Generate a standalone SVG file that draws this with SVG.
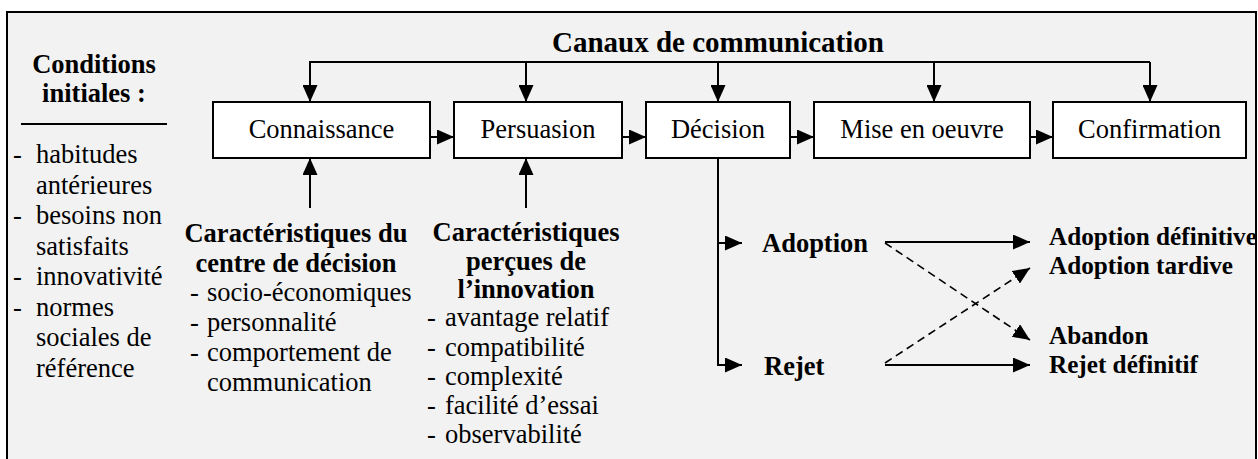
<svg xmlns="http://www.w3.org/2000/svg" width="1258" height="459" viewBox="0 0 1258 459">
<defs>
<marker id="ah" markerUnits="userSpaceOnUse" markerWidth="17" markerHeight="15" refX="17" refY="7.5" orient="auto">
<path d="M0,0 L17,7.5 L0,15 z" fill="#000"/>
</marker>
<style>
text{font-family:'Liberation Serif','Times New Roman',Times,'DejaVu Serif',serif;font-size:26.5px;fill:#000}
.b{font-weight:bold}
.m{text-anchor:middle}
text.title{font-size:29px}
text.out{font-size:25.2px}
.box{fill:#fff;stroke:#000;stroke-width:2}
.ln{fill:none;stroke:#000;stroke-width:2}
.ar{fill:none;stroke:#000;stroke-width:2;marker-end:url(#ah)}
.da{fill:none;stroke:#000;stroke-width:1.6;stroke-dasharray:8,5;marker-end:url(#ah)}
</style>
</defs>
<rect x="7" y="12" width="1249" height="460" fill="#f2f2f2" stroke="#000" stroke-width="2"/>
<g font-family="Liberation Serif, serif">
<text class="b m title" x="718" y="52">Canaux de communication</text>

<g id="conditions">
<text class="b m" x="94" y="73">Conditions</text>
<text class="b m" x="94" y="102">initiales :</text>
<line x1="21" y1="124" x2="167" y2="124" stroke="#000" stroke-width="2"/>
<text><tspan x="13" y="163">-</tspan><tspan x="36">habitudes</tspan></text>
<text x="36" y="193.5">antérieures</text>
<text><tspan x="13" y="224">-</tspan><tspan x="36">besoins non</tspan></text>
<text x="36" y="254.5">satisfaits</text>
<text><tspan x="13" y="285">-</tspan><tspan x="36">innovativité</tspan></text>
<text><tspan x="13" y="315.5">-</tspan><tspan x="36">normes</tspan></text>
<text x="36" y="346">sociales de</text>
<text x="36" y="376.5">référence</text>
</g>

<g id="connaissance"><rect class="box" x="213" y="102" width="217" height="56"/><text class="m" x="321.5" y="138">Connaissance</text></g>
<g id="persuasion"><rect class="box" x="454" y="102" width="168" height="56"/><text class="m" x="538" y="138">Persuasion</text></g>
<g id="decision"><rect class="box" x="646" y="102" width="144" height="56"/><text class="m" x="718" y="138">Décision</text></g>
<g id="mise"><rect class="box" x="814" y="102" width="216" height="56"/><text class="m" x="922" y="138">Mise en oeuvre</text></g>
<g id="confirmation"><rect class="box" x="1053" y="102" width="193" height="56"/><text class="m" x="1149.5" y="138">Confirmation</text></g>

<g id="carac-centre">
<text class="b m" x="296" y="242">Caractéristiques du</text>
<text class="b m" x="296" y="272">centre de décision</text>
<text><tspan x="190" y="301">-</tspan><tspan x="207">socio-économiques</tspan></text>
<text><tspan x="190" y="331">-</tspan><tspan x="207">personnalité</tspan></text>
<text><tspan x="190" y="361">-</tspan><tspan x="207">comportement de</tspan></text>
<text x="207" y="391">communication</text>
</g>

<g id="carac-innovation">
<text class="b m" x="526" y="241">Caractéristiques</text>
<text class="b m" x="526" y="270">perçues de</text>
<text class="b m" x="526" y="298">l’innovation</text>
<text><tspan x="427" y="326">-</tspan><tspan x="445">avantage relatif</tspan></text>
<text><tspan x="427" y="355.5">-</tspan><tspan x="445">compatibilité</tspan></text>
<text><tspan x="427" y="385">-</tspan><tspan x="445">complexité</tspan></text>
<text><tspan x="427" y="414">-</tspan><tspan x="445">facilité d’essai</tspan></text>
<text><tspan x="427" y="443">-</tspan><tspan x="445">observabilité</tspan></text>
</g>

<g id="adoption"><text class="b" x="762" y="252">Adoption</text></g>
<g id="rejet"><text class="b" x="764" y="375">Rejet</text></g>
<g id="outcomes">
<text class="b out" x="1049" y="245">Adoption définitive</text>
<text class="b out" x="1049" y="274">Adoption tardive</text>
<text class="b out" x="1049" y="344">Abandon</text>
<text class="b out" x="1049" y="373">Rejet définitif</text>
</g>
</g>

<g id="connectors">
<polyline class="ln" points="310,102 310,62 1150,62"/>
<line class="ar" x1="310" y1="62" x2="310" y2="102"/>
<line class="ar" x1="526" y1="62" x2="526" y2="102"/>
<line class="ar" x1="718" y1="62" x2="718" y2="102"/>
<line class="ar" x1="934" y1="62" x2="934" y2="102"/>
<line class="ar" x1="1150" y1="62" x2="1150" y2="102"/>
<line class="ar" x1="430" y1="137" x2="454" y2="137"/>
<line class="ar" x1="622" y1="137" x2="646" y2="137"/>
<line class="ar" x1="790" y1="137" x2="814" y2="137"/>
<line class="ar" x1="1030" y1="137" x2="1053" y2="137"/>
<line class="ar" x1="310" y1="208" x2="310" y2="158"/>
<line class="ar" x1="526" y1="208" x2="526" y2="158"/>
<line class="ln" x1="718" y1="158" x2="718" y2="365"/>
<line class="ar" x1="717" y1="243" x2="742" y2="243"/>
<line class="ar" x1="717" y1="365" x2="742" y2="365"/>
<line class="ar" x1="885" y1="242" x2="1030" y2="242"/>
<line class="ar" x1="885" y1="365" x2="1030" y2="365"/>
<line class="da" x1="885" y1="243" x2="1030" y2="340"/>
<line class="da" x1="885" y1="363" x2="1030" y2="268"/>
</g>
</svg>
